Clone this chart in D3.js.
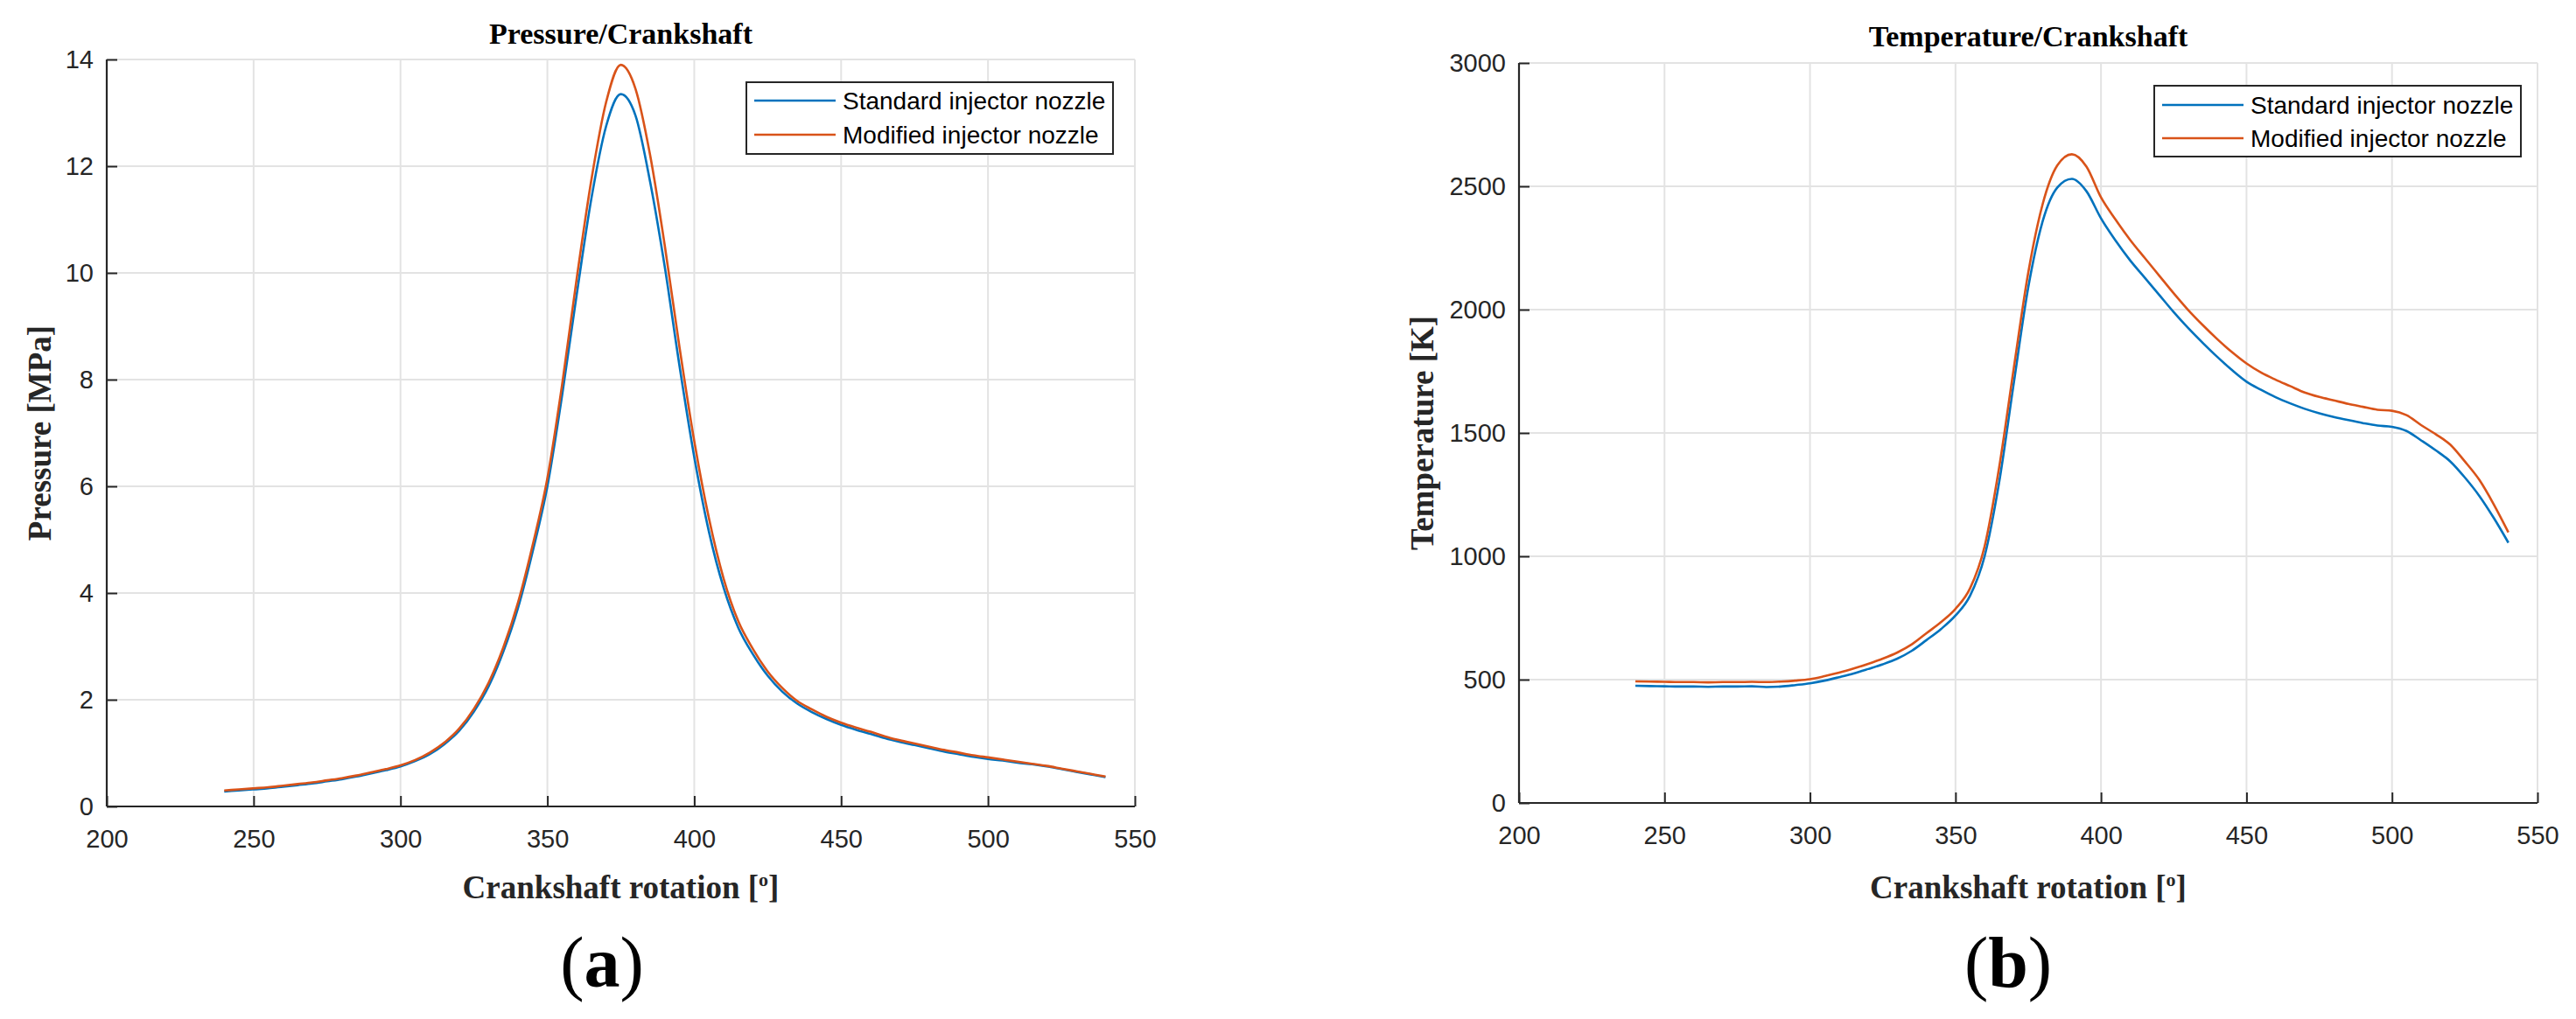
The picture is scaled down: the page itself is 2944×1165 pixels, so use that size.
<!DOCTYPE html>
<html>
<head>
<meta charset="utf-8">
<script src="https://cdn.jsdelivr.net/npm/d3@7"></script>
<style>
  html, body { margin: 0; padding: 0; background: #ffffff; }
  svg { display: block; }
</style>
</head>
<body>
<svg id="chart" width="2944" height="1165"></svg>
<script>
// ---------------- DATA ----------------
const angles = [240,245,250,255,260,265,270,275,280,285,290,295,300,305,310,315,320,325,330,335,
  340,345,350,355,360,365,370,375,380,385,390,395,400,405,410,415,420,425,430,435,
  440,445,450,455,460,465,470,475,480,485,490,495,500,505,510,515,520,525,530,535,540];

const pressureStandard = [0.28,0.30,0.32,0.34,0.37,0.40,0.43,0.47,0.51,0.56,0.62,0.68,0.75,0.85,0.98,1.17,1.42,1.78,2.25,2.90,
  3.72,4.78,6.00,7.70,9.60,11.40,12.75,13.35,12.95,11.70,10.10,8.25,6.55,5.15,4.10,3.35,2.85,2.45,2.15,1.93,
  1.77,1.64,1.53,1.44,1.36,1.28,1.21,1.15,1.09,1.03,0.98,0.93,0.89,0.86,0.82,0.79,0.75,0.70,0.65,0.60,0.55];

const pressureModified = [0.30,0.32,0.34,0.36,0.39,0.42,0.45,0.49,0.53,0.58,0.64,0.70,0.77,0.87,1.01,1.20,1.46,1.83,2.32,2.98,
  3.82,4.90,6.15,7.90,9.90,11.75,13.20,13.90,13.45,12.20,10.50,8.60,6.85,5.40,4.27,3.47,2.95,2.53,2.22,1.98,
  1.82,1.68,1.57,1.48,1.40,1.31,1.24,1.18,1.12,1.06,1.01,0.96,0.92,0.88,0.84,0.80,0.76,0.71,0.66,0.61,0.56];

const temperatureStandard = [475,474,473,472,472,471,472,472,473,470,472,478,485,496,510,525,543,562,585,617,
  660,705,760,840,1000,1300,1700,2090,2360,2495,2530,2480,2370,2280,2200,2130,2060,1990,1925,1865,
  1808,1755,1708,1675,1645,1620,1598,1580,1565,1552,1540,1530,1525,1508,1470,1430,1385,1320,1245,1155,1055];

const temperatureModified = [493,492,491,490,490,489,490,490,491,490,492,496,502,514,528,545,564,585,610,643,
  688,733,787,870,1040,1360,1760,2150,2430,2585,2630,2580,2455,2365,2283,2210,2138,2066,1998,1937,
  1880,1828,1782,1745,1716,1690,1664,1646,1632,1618,1606,1594,1590,1572,1532,1495,1453,1385,1310,1210,1097];

const xTicks = [200,250,300,350,400,450,500,550];
const pressureTicks = [0,2,4,6,8,10,12,14];
const temperatureTicks = [0,500,1000,1500,2000,2500,3000];
const seriesNames = ["Standard injector nozzle", "Modified injector nozzle"];
const seriesColors = ["#0072BD", "#D95319"];

// ---------------- DRAW ----------------
const svg = d3.select("#chart");

function drawPanel(cfg) {
  const g = svg.append("g");
  const x = d3.scaleLinear().domain([200, 550]).range([cfg.left, cfg.right]);
  const y = d3.scaleLinear().domain(cfg.yDomain).range([cfg.bottom, cfg.top]);

  // grid
  g.append("g").selectAll("line.vx").data(xTicks.slice(1)).join("line")
    .attr("x1", d => x(d)).attr("x2", d => x(d))
    .attr("y1", cfg.top).attr("y2", cfg.bottom)
    .attr("stroke", "#e3e3e3").attr("stroke-width", 2);
  g.append("g").selectAll("line.hy").data(cfg.yTicks.slice(1)).join("line")
    .attr("x1", cfg.left).attr("x2", cfg.right)
    .attr("y1", d => y(d)).attr("y2", d => y(d))
    .attr("stroke", "#e3e3e3").attr("stroke-width", 2);

  // lines
  const line = d3.line().x((d, i) => x(angles[i])).y(d => y(d)).curve(d3.curveMonotoneX);
  cfg.series.forEach((s, k) => {
    g.append("path").datum(s)
      .attr("d", line)
      .attr("fill", "none")
      .attr("stroke", seriesColors[k])
      .attr("stroke-width", 2.6)
      .attr("stroke-linejoin", "round");
  });

  // axes (inward ticks)
  const xAxis = d3.axisBottom(x).tickValues(xTicks).tickSize(-12).tickPadding(26).tickFormat(d3.format("d"));
  const yAxis = d3.axisLeft(y).tickValues(cfg.yTicks).tickSize(-12).tickPadding(15).tickFormat(d3.format("d"));

  const gx = g.append("g").attr("transform", `translate(0,${cfg.bottom})`).call(xAxis);
  const gy = g.append("g").attr("transform", `translate(${cfg.left},0)`).call(yAxis);
  [gx, gy].forEach(a => {
    a.select(".domain").attr("stroke", "#262626").attr("stroke-width", 2.2);
    a.selectAll(".tick line").attr("stroke", "#262626").attr("stroke-width", 2);
    a.selectAll(".tick text")
      .attr("fill", "#262626")
      .style("font-family", "'Liberation Sans', Arial, sans-serif")
      .style("font-size", "29px");
  });
  gy.select(".domain").attr("d", `M0,${cfg.bottom}V${cfg.top}`);
  gx.select(".domain").attr("d", `M${cfg.left},0H${cfg.right}`);

  // title
  g.append("text")
    .attr("x", (cfg.left + cfg.right) / 2).attr("y", cfg.titleY)
    .attr("text-anchor", "middle")
    .style("font-family", "'Liberation Serif', 'Times New Roman', serif")
    .style("font-weight", "bold").style("font-size", "34px").attr("fill", "#000")
    .text(cfg.title);

  // x label
  const xl = g.append("text")
    .attr("x", (cfg.left + cfg.right) / 2).attr("y", 1027)
    .attr("text-anchor", "middle")
    .style("font-family", "'Liberation Serif', 'Times New Roman', serif")
    .style("font-weight", "bold").style("font-size", "37px").attr("fill", "#262626");
  xl.append("tspan").text("Crankshaft rotation [");
  xl.append("tspan").attr("dy", -14).style("font-size", "22px").text("o");
  xl.append("tspan").attr("dy", 14).text("]");

  // y label
  g.append("text")
    .attr("transform", `translate(${cfg.yLabelX},${(cfg.top + cfg.bottom) / 2}) rotate(-90)`)
    .attr("text-anchor", "middle")
    .attr("dy", "0.35em")
    .style("font-family", "'Liberation Serif', 'Times New Roman', serif")
    .style("font-weight", "bold").style("font-size", "37px").attr("fill", "#262626")
    .text(cfg.yLabel);

  // legend
  const lg = g.append("g");
  lg.append("rect")
    .attr("x", cfg.legend.x0).attr("y", cfg.legend.y0)
    .attr("width", cfg.legend.x1 - cfg.legend.x0).attr("height", cfg.legend.y1 - cfg.legend.y0)
    .attr("fill", "#fff").attr("stroke", "#262626").attr("stroke-width", 2);
  seriesNames.forEach((name, k) => {
    const ry = cfg.legend.rows[k];
    lg.append("line")
      .attr("x1", cfg.legend.x0 + 9).attr("x2", cfg.legend.x0 + 102)
      .attr("y1", ry).attr("y2", ry)
      .attr("stroke", seriesColors[k]).attr("stroke-width", 2.6);
    lg.append("text")
      .attr("x", cfg.legend.x0 + 110).attr("y", ry).attr("dy", "0.36em")
      .style("font-family", "'Liberation Sans', Arial, sans-serif")
      .style("font-size", "28px").attr("fill", "#000")
      .text(name);
  });

  // panel letter
  const pl = g.append("text")
    .attr("x", cfg.letterX).attr("y", 1128)
    .attr("text-anchor", "middle")
    .style("font-family", "'Liberation Serif', 'Times New Roman', serif")
    .style("font-size", "82px").attr("fill", "#000");
  pl.append("tspan").text("(");
  pl.append("tspan").style("font-weight", "bold").text(cfg.letter);
  pl.append("tspan").text(")");
}

drawPanel({
  left: 122, right: 1297, top: 68, bottom: 922,
  yDomain: [0, 14], yTicks: pressureTicks,
  series: [pressureStandard, pressureModified],
  title: "Pressure/Crankshaft", titleY: 50,
  yLabel: "Pressure [MPa]", yLabelX: 45,
  legend: { x0: 853, x1: 1272, y0: 94, y1: 176, rows: [115, 154] },
  letter: "a", letterX: 688
});

drawPanel({
  left: 1736, right: 2900, top: 72, bottom: 918,
  yDomain: [0, 3000], yTicks: temperatureTicks,
  series: [temperatureStandard, temperatureModified],
  title: "Temperature/Crankshaft", titleY: 53,
  yLabel: "Temperature [K]", yLabelX: 1625,
  legend: { x0: 2462, x1: 2881, y0: 98, y1: 179, rows: [120, 158] },
  letter: "b", letterX: 2295
});
</script>
</body>
</html>
